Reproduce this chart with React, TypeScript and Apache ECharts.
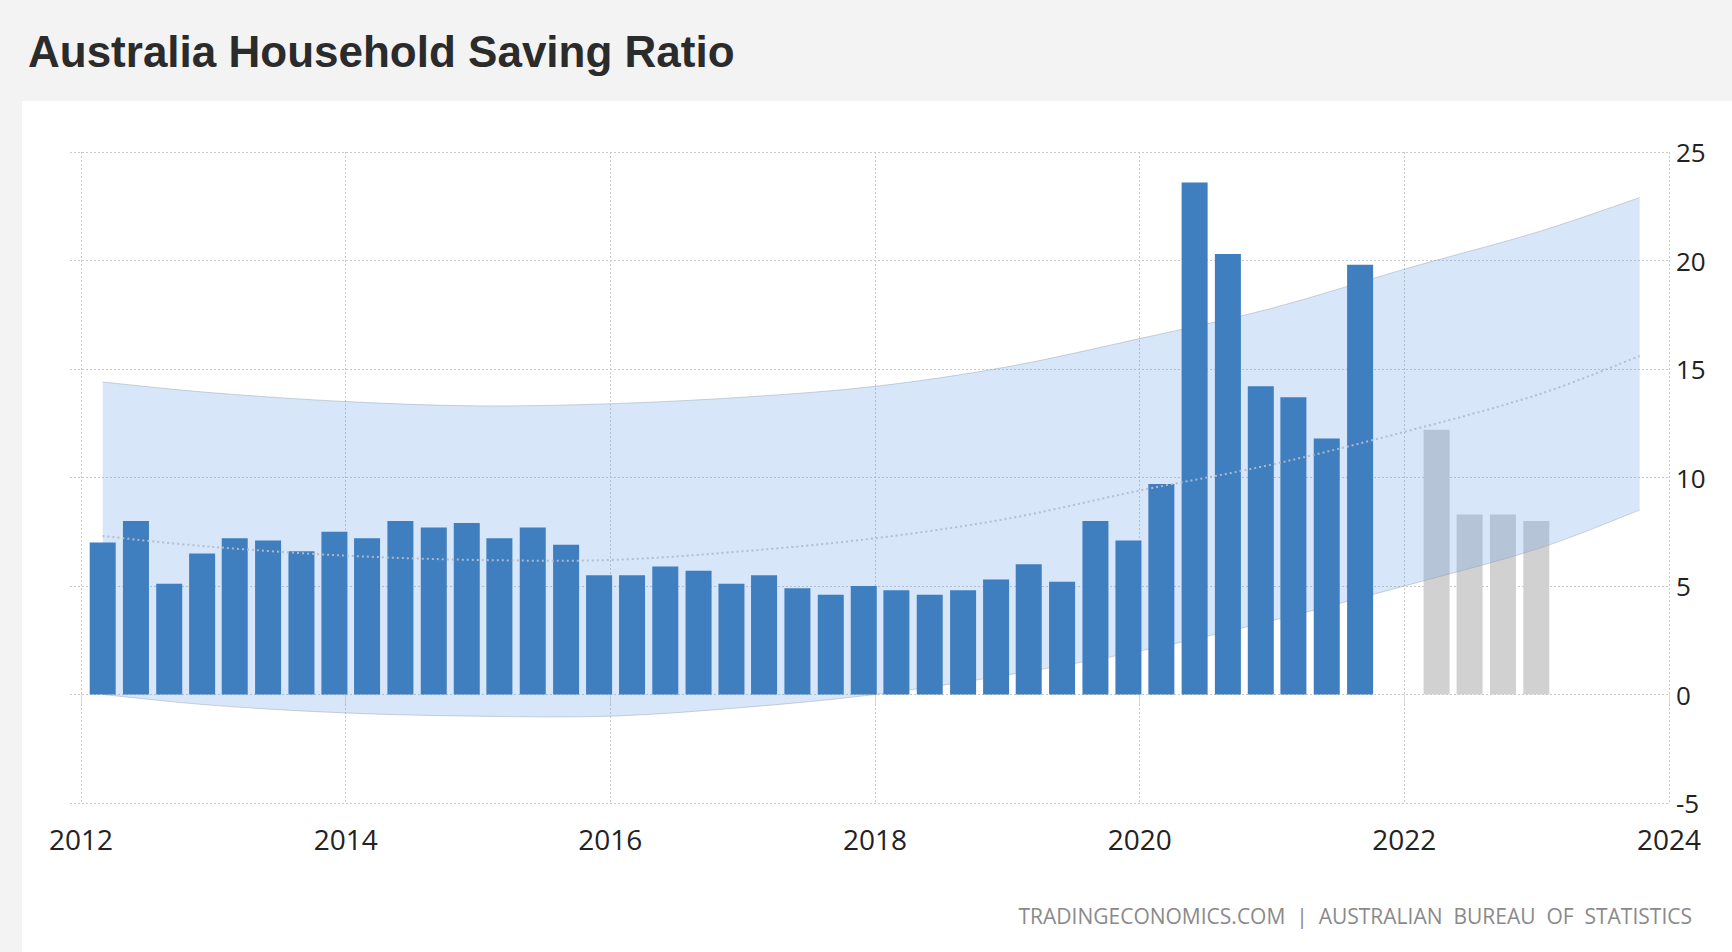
import React, { useEffect, useRef } from "react";
import * as echarts from "echarts";

const TITLE = "Australia Household Saving Ratio";
const SOURCE = "TRADINGECONOMICS.COM  |  AUSTRALIAN  BUREAU  OF  STATISTICS";

const actualDates = [
  "2012-03-01", "2012-06-01", "2012-09-01", "2012-12-01",
  "2013-03-01", "2013-06-01", "2013-09-01", "2013-12-01",
  "2014-03-01", "2014-06-01", "2014-09-01", "2014-12-01",
  "2015-03-01", "2015-06-01", "2015-09-01", "2015-12-01",
  "2016-03-01", "2016-06-01", "2016-09-01", "2016-12-01",
  "2017-03-01", "2017-06-01", "2017-09-01", "2017-12-01",
  "2018-03-01", "2018-06-01", "2018-09-01", "2018-12-01",
  "2019-03-01", "2019-06-01", "2019-09-01", "2019-12-01",
  "2020-03-01", "2020-06-01", "2020-09-01", "2020-12-01",
  "2021-03-01", "2021-06-01", "2021-09-01",
];
const actualValues = [
  7.0, 8.0, 5.1, 6.5,
  7.2, 7.1, 6.6, 7.5,
  7.2, 8.0, 7.7, 7.9,
  7.2, 7.7, 6.9, 5.5,
  5.5, 5.9, 5.7, 5.1,
  5.5, 4.9, 4.6, 5.0,
  4.8, 4.6, 4.8, 5.3,
  6.0, 5.2, 8.0, 7.1,
  9.7, 23.6, 20.3, 14.2,
  13.7, 11.8, 19.8,
];

const forecastDates = ["2022-03-31", "2022-06-30", "2022-09-30", "2022-12-31"];
const forecastValues = [12.2, 8.3, 8.3, 8.0];

const bandDates = [
  "2012-03-01", "2013-01-01", "2014-01-01", "2015-01-01", "2016-01-01",
  "2017-01-01", "2018-01-01", "2019-01-01", "2020-01-01", "2021-01-01",
  "2022-01-01", "2023-01-01", "2023-10-12",
];
const bandUpper = [14.4, 13.9, 13.5, 13.3, 13.4, 13.7, 14.2, 15.1, 16.4, 17.8, 19.6, 21.3, 22.9];
const bandLower = [0.0, -0.5, -0.85, -1.0, -1.0, -0.6, 0.0, 0.9, 2.0, 3.4, 5.0, 6.7, 8.5];
const trendValues = [7.3, 6.8, 6.4, 6.2, 6.2, 6.6, 7.2, 8.1, 9.4, 10.6, 12.1, 13.8, 15.6];

const xTicks = { min: 2012, max: 2024, step: 2 };
const yTicks = { min: -5, max: 25, step: 5 };

function toYear(s: string): number {
  const [y, m, d] = s.split("-").map(Number);
  const t = Date.UTC(y, m - 1, d);
  const a = Date.UTC(y, 0, 1);
  const b = Date.UTC(y + 1, 0, 1);
  return y + (t - a) / (b - a);
}

function smoothPath(pts: number[][], move: boolean): string {
  let d = (move ? "M" : "L") + pts[0][0] + "," + pts[0][1];
  for (let i = 0; i < pts.length - 1; i++) {
    const p0 = pts[Math.max(i - 1, 0)];
    const p1 = pts[i];
    const p2 = pts[i + 1];
    const p3 = pts[Math.min(i + 2, pts.length - 1)];
    const c1 = [p1[0] + (p2[0] - p0[0]) / 6, p1[1] + (p2[1] - p0[1]) / 6];
    const c2 = [p2[0] - (p3[0] - p1[0]) / 6, p2[1] - (p3[1] - p1[1]) / 6];
    d += " C" + c1[0] + "," + c1[1] + " " + c2[0] + "," + c2[1] + " " + p2[0] + "," + p2[1];
  }
  return d;
}

const GRID_TOP = 152;
const GRID_BOTTOM = 149;
const GRID_RIGHT = 63;
const LABEL_FONT = "'Open Sans', sans-serif";
const gridLine = { color: "#c9c9c9", type: [2, 2] as number[], width: 1 };

export default function App() {
  const ref = useRef<HTMLDivElement>(null);
  useEffect(() => {
    document.body.style.margin = "0";
    const chart = echarts.init(ref.current!, null, { renderer: "svg" });

    const actualData = actualDates.map((d, i) => [toYear(d), actualValues[i]]);
    const forecastData = forecastDates.map((d, i) => [toYear(d), forecastValues[i]]);
    const bandData = bandDates.map((d, i) => [toYear(d), bandUpper[i], bandLower[i], trendValues[i]]);

    const option: any = {
      animation: false,
      backgroundColor: "#f3f3f3",
      graphic: [
        {
          type: "rect",
          z: -100,
          shape: { x: 22, y: 101, width: 1710, height: 851 },
          style: { fill: "#ffffff" },
        },
        {
          type: "text",
          x: 28,
          y: 51,
          style: {
            text: TITLE,
            font: "bold 44px 'Liberation Sans', Arial, sans-serif",
            fill: "#2b2b2b",
            align: "left",
            verticalAlign: "middle",
          },
        },
        {
          type: "text",
          x: 1692,
          y: 916,
          style: {
            text: SOURCE,
            font: "21px " + LABEL_FONT,
            fill: "#8a8a8a",
            align: "right",
            verticalAlign: "middle",
          },
        },
      ],
      grid: [
        { left: 70, right: GRID_RIGHT, top: GRID_TOP, bottom: GRID_BOTTOM },
        { left: 81, right: GRID_RIGHT, top: GRID_TOP, bottom: GRID_BOTTOM },
      ],
      xAxis: [
        { type: "value", gridIndex: 0, min: 0, max: 1, show: false },
        {
          type: "value",
          gridIndex: 1,
          min: xTicks.min,
          max: xTicks.max,
          interval: xTicks.step,
          axisLine: { show: false },
          axisTick: { show: true, length: 10, lineStyle: { color: "#d6d6d6" } },
          axisLabel: {
            margin: 22,
            fontSize: 28,
            color: "#222",
            fontFamily: LABEL_FONT,
            formatter: (v: number) => String(v),
          },
          splitLine: { show: true, lineStyle: gridLine },
        },
      ],
      yAxis: [
        {
          type: "value",
          gridIndex: 0,
          position: "right",
          min: yTicks.min,
          max: yTicks.max,
          interval: yTicks.step,
          axisLine: { show: false },
          axisTick: { show: false },
          axisLabel: { margin: 7, fontSize: 26, color: "#222", fontFamily: LABEL_FONT },
          splitLine: { show: true, lineStyle: gridLine },
        },
        { type: "value", gridIndex: 1, min: yTicks.min, max: yTicks.max, show: false },
      ],
      series: [
        {
          type: "bar",
          name: "Forecast",
          xAxisIndex: 1,
          yAxisIndex: 1,
          data: forecastData,
          barWidth: 26,
          barGap: "-100%",
          itemStyle: { color: "#d1d1d1" },
          z: 2,
        },
        {
          type: "custom",
          name: "Band",
          xAxisIndex: 1,
          yAxisIndex: 1,
          data: bandData,
          encode: { x: 0, y: [1, 2] },
          z: 3,
          silent: true,
          renderItem: (params: any, api: any) => {
            if (params.dataIndex !== 0) return null;
            const up = bandData.map((p) => api.coord([p[0], p[1]]));
            const lo = bandData.map((p) => api.coord([p[0], p[2]]));
            const fill = smoothPath(up, true) + " " + smoothPath(lo.slice().reverse(), false) + " Z";
            return {
              type: "group",
              children: [
                { type: "path", shape: { pathData: fill }, style: { fill: "rgba(107,163,230,0.27)", stroke: "none" } },
                { type: "path", shape: { pathData: smoothPath(up, true) }, style: { fill: "none", stroke: "rgba(150,160,175,0.45)", lineWidth: 1 } },
                { type: "path", shape: { pathData: smoothPath(lo, true) }, style: { fill: "none", stroke: "rgba(150,160,175,0.45)", lineWidth: 1 } },
              ],
            };
          },
        },
        {
          type: "bar",
          name: "Actual",
          xAxisIndex: 1,
          yAxisIndex: 1,
          data: actualData,
          barWidth: 26,
          barGap: "-100%",
          itemStyle: { color: "#3f7ebf" },
          z: 4,
        },
        {
          type: "custom",
          name: "Trend",
          xAxisIndex: 1,
          yAxisIndex: 1,
          data: bandData,
          encode: { x: 0, y: 3 },
          z: 5,
          silent: true,
          renderItem: (params: any, api: any) => {
            if (params.dataIndex !== 0) return null;
            const pts = bandData.map((p) => api.coord([p[0], p[3]]));
            return {
              type: "path",
              shape: { pathData: smoothPath(pts, true) },
              style: { fill: "none", stroke: "rgba(180,188,202,0.95)", lineWidth: 2, lineDash: [2, 3] },
            };
          },
        },
      ],
    };
    chart.setOption(option);
    return () => chart.dispose();
  }, []);
  return <div ref={ref} style={{ width: 1732, height: 952 }} />;
}
